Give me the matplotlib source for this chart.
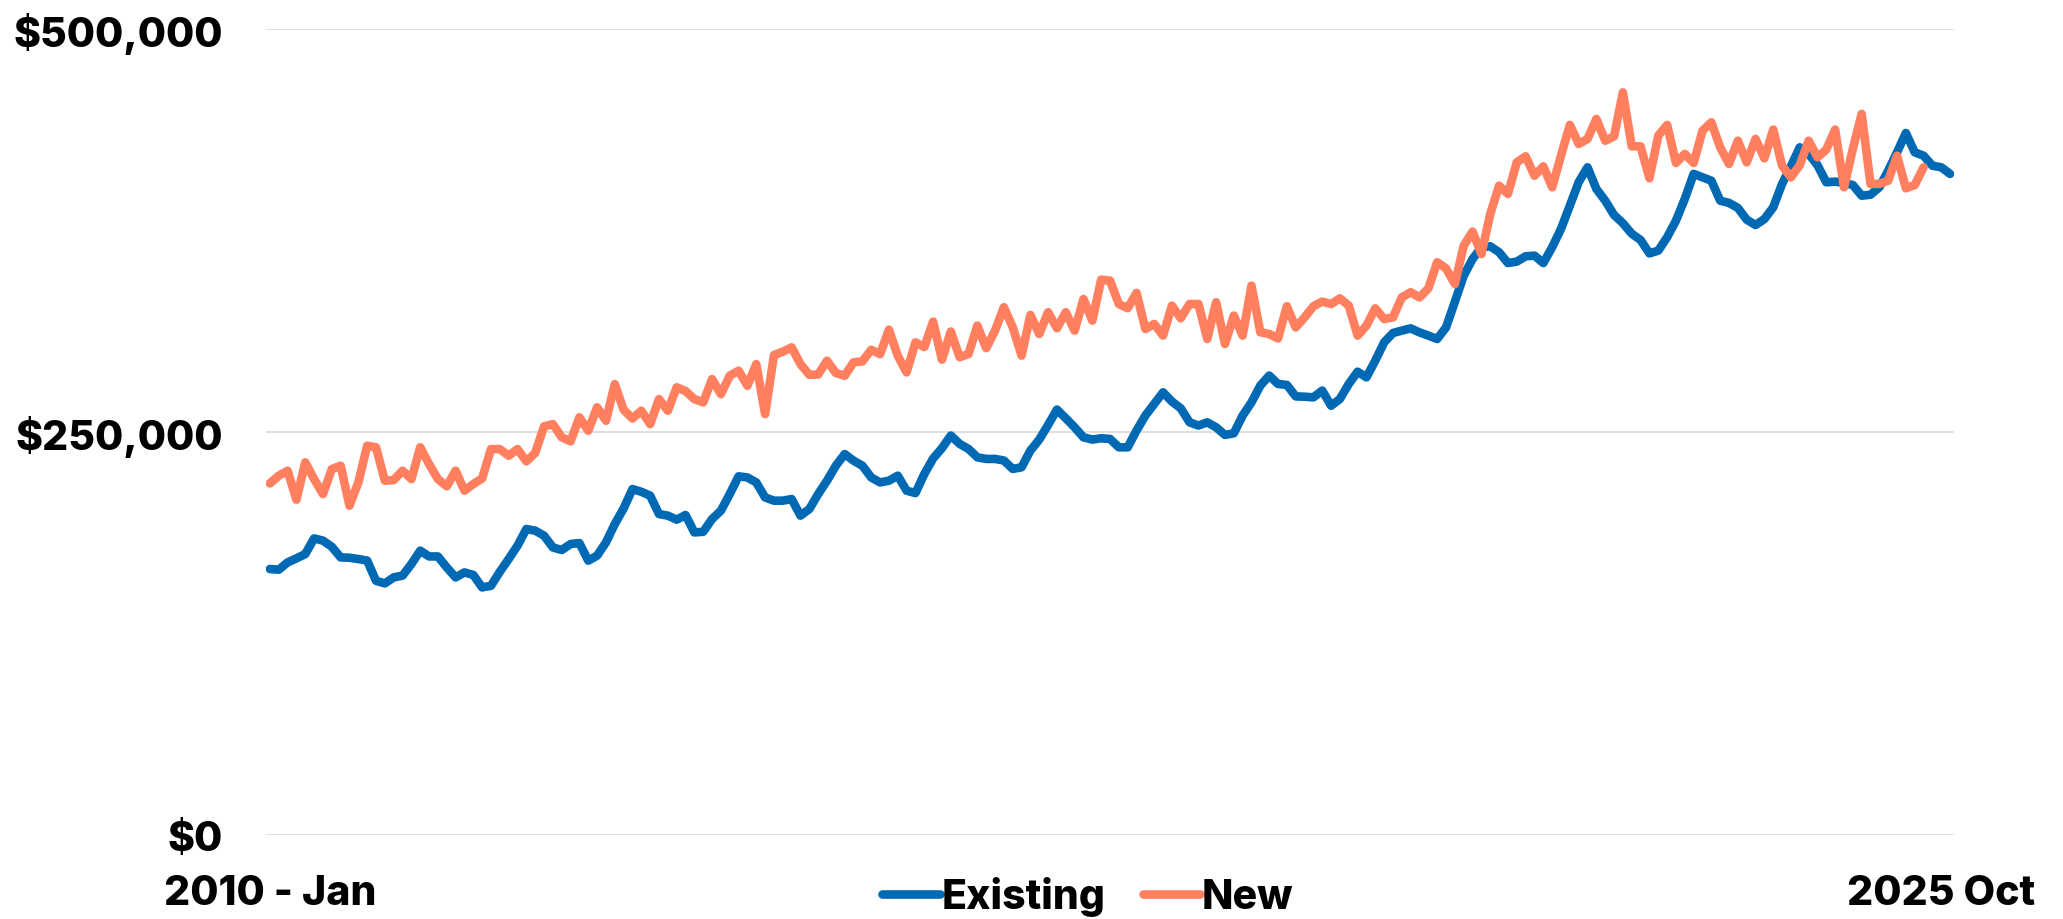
import numpy as np
import matplotlib
matplotlib.use("Agg")
import matplotlib.pyplot as plt
from matplotlib.ticker import FuncFormatter

# median price, thousands of $, monthly from Jan 2010
existing = [
    165.0, 164.6, 169.1, 171.6, 174.3, 184.0, 182.6, 178.8, 172.2, 172.0, 171.2, 170.2,
    157.7, 156.1, 159.8, 160.9, 168.1, 176.4, 172.8, 172.8, 166.0, 159.8, 162.9, 161.3,
    153.6, 154.6, 163.3, 171.2, 179.5, 189.8, 188.8, 185.7, 178.4, 176.8, 180.5, 181.1,
    170.2, 173.3, 181.5, 192.9, 202.6, 214.6, 212.9, 210.5, 199.1, 198.1, 195.6, 198.5,
    187.7, 188.1, 196.0, 201.2, 211.5, 222.5, 221.8, 218.7, 209.4, 207.4, 207.4, 208.4,
    198.1, 202.2, 211.5, 219.8, 229.1, 236.3, 232.2, 229.1, 221.8, 218.7, 219.8, 222.9,
    213.6, 212.1, 223.9, 233.6, 240.0, 247.8, 242.6, 239.5, 234.3, 233.3, 233.3, 232.3,
    227.1, 228.1, 238.5, 245.3, 254.4, 263.9, 258.5, 252.9, 246.7, 245.3, 246.1, 245.7,
    240.5, 240.5, 250.9, 260.2, 267.4, 274.6, 268.9, 264.7, 256.0, 254.0, 256.0, 252.9,
    248.2, 249.2, 260.2, 268.4, 278.8, 285.0, 279.8, 279.2, 272.1, 271.9, 271.5, 275.7,
    266.3, 270.5, 279.8, 287.4, 283.9, 294.3, 305.6, 311.4, 312.9, 314.3, 311.8, 309.8,
    307.7, 314.9, 330.8, 347.0, 357.3, 364.6, 365.2, 361.5, 354.8, 355.7, 359.0, 359.4,
    354.8, 364.6, 376.0, 390.4, 405.0, 414.2, 400.8, 393.5, 384.6, 379.5, 373.0, 369.1,
    360.8, 362.5, 370.8, 381.1, 394.6, 410.1, 408.0, 405.9, 393.5, 392.1, 389.0, 381.7,
    378.4, 382.1, 389.4, 403.9, 414.8, 426.6, 422.5, 415.6, 404.9, 405.3, 404.5, 403.2,
    396.6, 397.2, 401.8, 412.1, 423.5, 435.5, 423.5, 421.4, 415.2, 414.2, 410.1,
]

new = [
    218.1, 222.9, 226.0, 208.0, 231.2, 220.8, 211.5, 227.0, 229.1, 204.3, 218.7, 241.5,
    240.5, 219.8, 220.2, 226.0, 220.8, 240.5, 230.1, 220.8, 216.3, 226.0, 213.6, 217.7,
    221.2, 239.4, 239.4, 235.3, 239.4, 231.8, 237.0, 253.5, 254.9, 246.7, 244.2, 259.1,
    250.8, 265.3, 257.0, 279.7, 263.8, 258.4, 263.2, 254.9, 270.4, 263.2, 277.7, 275.4,
    270.4, 268.4, 282.8, 273.5, 284.9, 288.0, 278.7, 292.1, 261.1, 297.7, 299.8, 302.5,
    292.1, 285.5, 285.7, 294.2, 286.6, 284.9, 293.2, 293.8, 301.0, 298.3, 313.4, 297.3,
    287.0, 305.6, 302.7, 318.5, 294.9, 312.3, 296.4, 298.4, 316.0, 302.0, 312.9, 327.4,
    315.0, 297.4, 322.6, 310.8, 324.3, 314.4, 324.3, 312.9, 332.5, 319.1, 344.5, 343.9,
    329.4, 326.8, 336.3, 313.9, 317.0, 309.8, 328.4, 320.6, 329.4, 329.4, 307.7, 330.5,
    304.6, 322.2, 309.8, 340.8, 311.9, 310.8, 308.0, 328.0, 314.9, 321.1, 328.0, 330.9,
    329.4, 332.9, 328.4, 309.8, 316.0, 326.7, 320.1, 321.1, 333.5, 336.7, 333.5, 339.1,
    355.3, 351.5, 341.8, 365.6, 374.3, 360.4, 385.2, 402.8, 397.7, 417.3, 421.0, 409.0,
    414.8, 401.8, 421.4, 440.5, 428.7, 431.8, 444.2, 430.7, 433.4, 460.7, 427.2, 427.2,
    407.4, 433.8, 440.5, 416.9, 422.5, 416.9, 436.9, 442.1, 426.6, 416.3, 430.7, 417.3,
    431.8, 419.8, 437.6, 415.2, 408.0, 415.6, 430.7, 420.4, 425.2, 437.6, 401.8, 425.6,
    447.3, 403.9, 403.9, 405.9, 421.4, 401.2, 403.2, 414.2,
]

x_labels = ["2010 - Jan", "2025 Oct"]
y_ticks = [0, 250000, 500000]

plt.rcParams["font.family"] = ["Inter", "DejaVu Sans"]
plt.rcParams["font.weight"] = "heavy"
FS = 29.5

fig = plt.figure(figsize=(20.63, 9.2), dpi=100)
ax = fig.add_axes([0.1289, 0.0913, 0.8183, 0.8761])

x_e = np.arange(len(existing))
x_n = np.arange(len(new))
ax.plot(x_e, np.array(existing) * 1000, color="#0069b4", lw=6.2,
        solid_capstyle="round", solid_joinstyle="round", label="Existing")
ax.plot(x_n, np.array(new) * 1000, color="#ff7f5f", lw=6.2,
        solid_capstyle="round", solid_joinstyle="round", label="New")

ax.set_ylim(0, 500000)
ax.set_xlim(-0.45, len(existing) - 1 + 0.45)
ax.set_yticks(y_ticks)
ax.yaxis.set_major_formatter(FuncFormatter(lambda v, p: "${:,.0f}".format(v)))
# last label sits a little left of the final point, as in the source
ax.set_xticks([0, len(existing) - 2])
ax.set_xticklabels(x_labels)

ax.grid(axis="y", color="#d9d9d9", lw=1.2)
ax.set_axisbelow(True)
for s in ax.spines.values():
    s.set_visible(False)
ax.tick_params(axis="y", length=0, pad=31, labelsize=FS)
ax.tick_params(axis="x", length=0, pad=28, labelsize=FS)
for t in ax.get_xticklabels() + ax.get_yticklabels():
    t.set_fontweight("heavy")

fig.legend(loc="center", bbox_to_anchor=(1088 / 2063, 1 - 897 / 920), ncol=2,
           frameon=False, handlelength=1.4, handletextpad=0.05,
           columnspacing=0.9, prop={"weight": "heavy", "size": FS})

fig.savefig("out.png", dpi=100)
